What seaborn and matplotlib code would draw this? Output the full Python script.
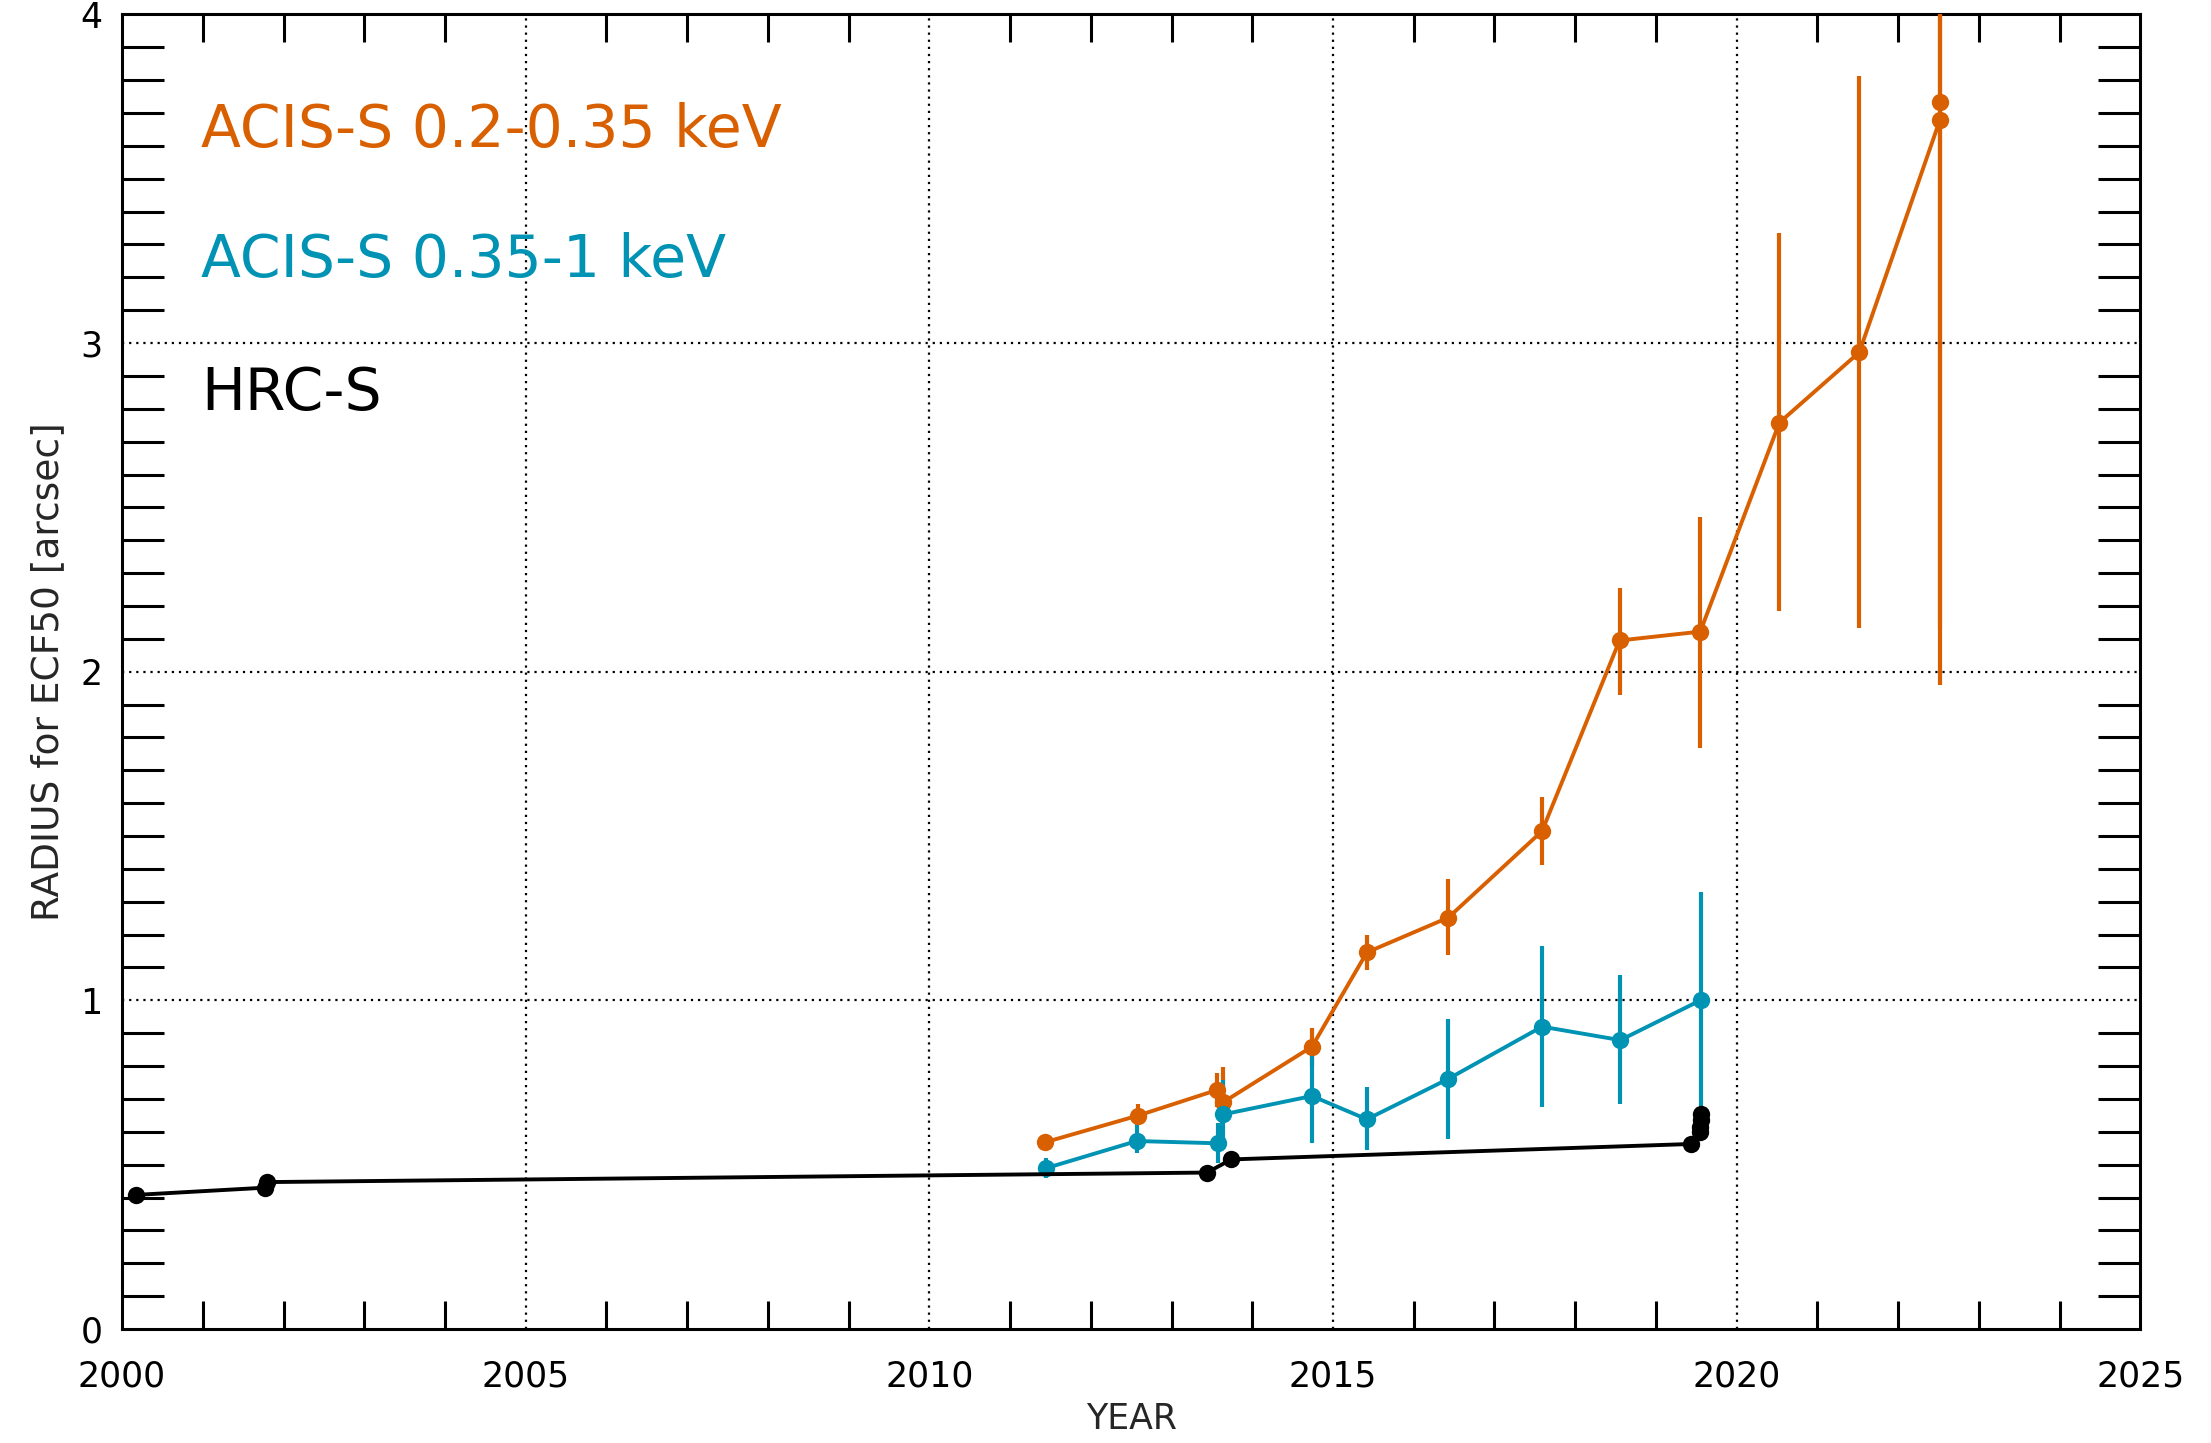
import numpy as np
import pandas as pd
import matplotlib
matplotlib.use("Agg")
import matplotlib.pyplot as plt
from matplotlib.ticker import MultipleLocator
import seaborn as sns

# ---------------- data ----------------
hrc_year = [2000.17, 2001.77, 2001.79, 2013.44, 2013.74, 2019.44, 2019.55, 2019.55, 2019.56, 2019.56]
hrc_val = [0.408, 0.430, 0.447, 0.476, 0.516, 0.563, 0.600, 0.615, 0.635, 0.655]

soft_year = [2011.43, 2012.58, 2013.56, 2013.64, 2014.74, 2015.42, 2016.43, 2017.59,
             2018.55, 2019.55, 2020.53, 2021.52, 2022.52, 2022.52]
soft_val = [0.568, 0.649, 0.727, 0.690, 0.859, 1.146, 1.252, 1.515,
            2.095, 2.122, 2.758, 2.972, 3.680, 3.735]
soft_err_lo = [0.020, 0.023, 0.050, 0.025, 0.060, 0.053, 0.114, 0.103,
               0.165, 0.355, 0.572, 0.839, 1.720, 1.605]
soft_err_hi = [0.020, 0.036, 0.051, 0.108, 0.057, 0.053, 0.116, 0.105,
               0.161, 0.350, 0.577, 0.841, 0.600, 0.600]

mid_year = [2011.44, 2012.57, 2013.58, 2013.64, 2014.74, 2015.42, 2016.42, 2017.59, 2018.56, 2019.56]
mid_val = [0.489, 0.572, 0.565, 0.653, 0.709, 0.638, 0.760, 0.920, 0.879, 1.001]
mid_err_lo = [0.030, 0.037, 0.061, 0.100, 0.142, 0.093, 0.183, 0.244, 0.194, 0.325]
mid_err_hi = [0.031, 0.054, 0.061, 0.105, 0.140, 0.099, 0.183, 0.245, 0.198, 0.330]

labels = ["ACIS-S 0.2-0.35 keV", "ACIS-S 0.35-1 keV", "HRC-S"]
colors = ["#D96000", "#0093B3", "#000000"]
x_ticks = [2000, 2005, 2010, 2015, 2020, 2025]
y_ticks = [0, 1, 2, 3, 4]

# ---------------- styling ----------------
sns.set_theme(style="white")
plt.rcParams['font.family'] = ['DejaVu Sans']

df = pd.concat([
    pd.DataFrame({"year": soft_year, "val": soft_val, "inst": labels[0]}),
    pd.DataFrame({"year": mid_year, "val": mid_val, "inst": labels[1]}),
    pd.DataFrame({"year": hrc_year, "val": hrc_val, "inst": labels[2]}),
], ignore_index=True)

fig = plt.figure(figsize=(22.11, 14.43), dpi=100)
ax = fig.add_axes([0.0552, 0.079, 0.9128, 0.911])

# grid (dotted) at major positions
for xv in x_ticks[1:-1]:
    ax.axvline(xv, color="black", linestyle=(0, (1, 2.2)), linewidth=1.6, zorder=1)
for yv in y_ticks[1:-1]:
    ax.axhline(yv, color="black", linestyle=(0, (1, 2.2)), linewidth=1.6, zorder=1)

# error bars
ax.errorbar(soft_year, soft_val, yerr=[soft_err_lo, soft_err_hi], fmt="none",
            ecolor=colors[0], elinewidth=3.0, capsize=0, zorder=3)
ax.errorbar(mid_year, mid_val, yerr=[mid_err_lo, mid_err_hi], fmt="none",
            ecolor=colors[1], elinewidth=3.0, capsize=0, zorder=3)

sns.lineplot(data=df, x="year", y="val", hue="inst", hue_order=labels,
             palette=dict(zip(labels, colors)), units="inst", estimator=None,
             sort=False, marker="o", markersize=12.5, markeredgewidth=0,
             linewidth=2.8, legend=False, ax=ax, zorder=4)

ax.set_xlim(2000, 2025)
ax.set_ylim(0, 4)
ax.set_xticks(x_ticks)
ax.set_yticks(y_ticks)
ax.xaxis.set_minor_locator(MultipleLocator(1))
ax.yaxis.set_minor_locator(MultipleLocator(0.1))
ax.tick_params(axis="both", which="major", length=0, labelsize=25, colors="black")
ax.tick_params(axis="x", which="major", pad=22)
ax.tick_params(axis="y", which="major", pad=14)
ax.tick_params(axis="x", which="minor", direction="in", length=20, width=2.2,
               top=True, bottom=True, color="black")
ax.tick_params(axis="y", which="minor", direction="in", length=30, width=2.2,
               left=True, right=True, color="black")
for s in ax.spines.values():
    s.set_visible(True)
    s.set_color("black")
    s.set_linewidth(2.2)

ax.set_xlabel("YEAR", fontsize=25, labelpad=6)
ax.set_ylabel("RADIUS for ECF50 [arcsec]", fontsize=27, labelpad=10)

ty = [0.899, 0.800, 0.699]
for lab, col, yy in zip(labels, colors, ty):
    ax.text(0.039, yy, lab, color=col, fontsize=42, transform=ax.transAxes,
            ha="left", va="baseline")

fig.savefig("out.png", dpi=100)
